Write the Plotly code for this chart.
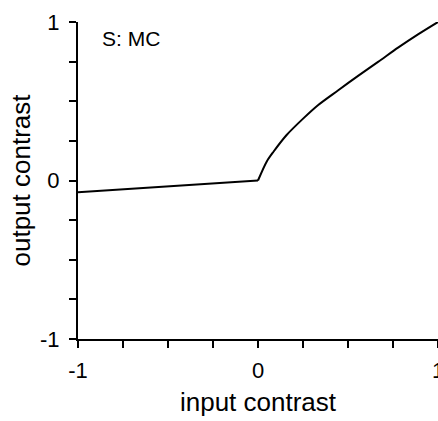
import plotly.graph_objects as go

# Contrast response curve: input contrast vs output contrast
input_contrast = [-1.0, -0.5, 0.0, 0.048, 0.085, 0.159, 0.252, 0.333, 0.444,
                  0.556, 0.667, 0.778, 0.889, 1.0]
output_contrast = [-0.074, -0.037, 0.0, 0.119, 0.180, 0.287, 0.392, 0.475, 0.568,
                   0.660, 0.748, 0.838, 0.922, 1.0]

tick_vals = [-1, -0.75, -0.5, -0.25, 0, 0.25, 0.5, 0.75, 1]
tick_text = ["-1", "", "", "", "0", "", "", "", "1"]

panel_label = "S: MC"
font_family = "Liberation Sans, Arial, sans-serif"

# Split at the kink: the negative branch is straight, the positive branch is smooth
k = input_contrast.index(0.0)

fig = go.Figure()
fig.add_trace(go.Scatter(
    x=input_contrast[:k + 1], y=output_contrast[:k + 1], mode="lines",
    line=dict(color="black", width=2), showlegend=False, hoverinfo="skip",
))
fig.add_trace(go.Scatter(
    x=input_contrast[k:], y=output_contrast[k:], mode="lines",
    line=dict(color="black", width=2, shape="spline", smoothing=0.8),
    showlegend=False, hoverinfo="skip",
))

axis_common = dict(
    tickmode="array", tickvals=tick_vals, ticktext=tick_text,
    ticks="outside", ticklen=7, tickwidth=1.5, tickcolor="black",
    showline=True, linecolor="black", linewidth=2,
    showgrid=False, zeroline=False, ticklabeloverflow="allow",
    automargin=False,
    tickfont=dict(family=font_family, size=22, color="black"),
)

fig.update_xaxes(
    range=[-1, 1], ticklabelstandoff=4, **axis_common,
    title=dict(text="input contrast", standoff=10,
               font=dict(family=font_family, size=26, color="black")),
)
fig.update_yaxes(
    range=[-1, 1], ticklabelstandoff=5, **axis_common,
    title=dict(text="output contrast", standoff=2,
               font=dict(family=font_family, size=26, color="black")),
)

fig.add_annotation(
    x=-0.878, y=0.899, xref="x", yref="y", text=panel_label,
    showarrow=False, xanchor="left", yanchor="middle",
    font=dict(family=font_family, size=21, color="black"),
)

fig.update_layout(
    width=438, height=421,
    margin=dict(l=78, r=0, t=22, b=82),
    paper_bgcolor="white", plot_bgcolor="white",
)

fig.write_html("out.html")
